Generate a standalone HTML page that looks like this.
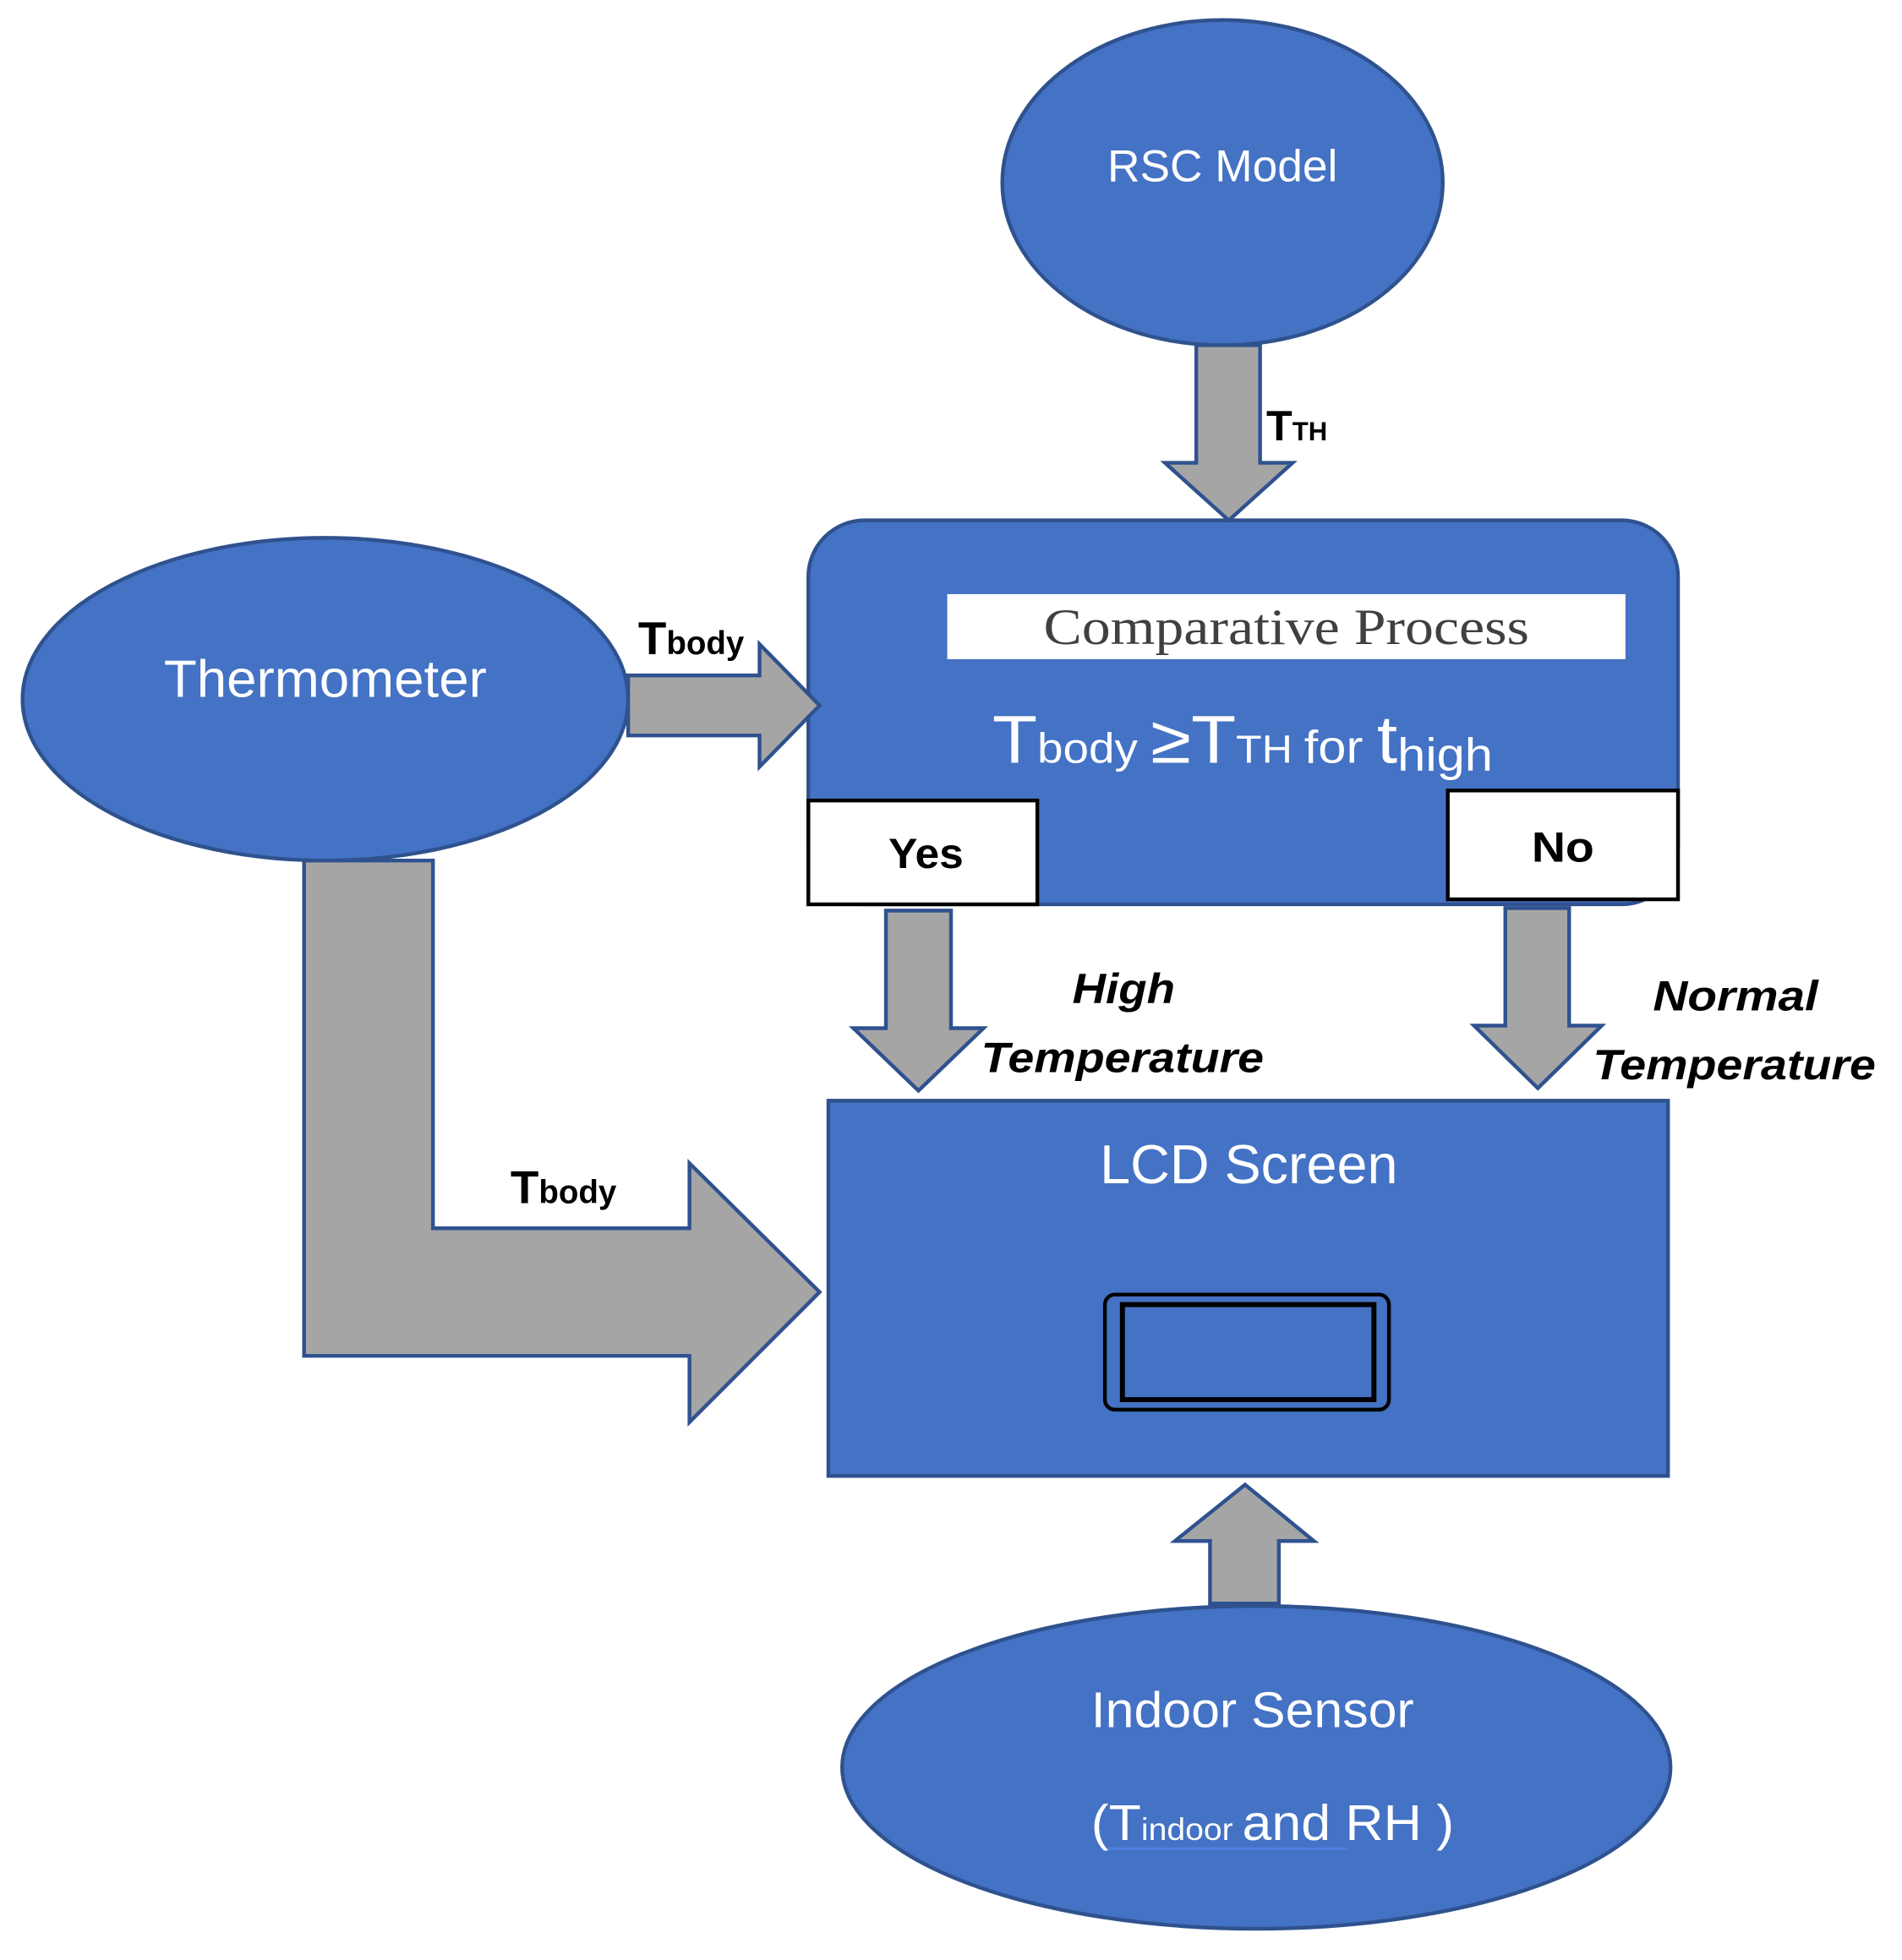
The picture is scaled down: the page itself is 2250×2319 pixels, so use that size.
<!DOCTYPE html>
<html><head><meta charset="utf-8"><style>html,body{margin:0;padding:0;background:#fff}svg{display:block}</style></head>
<body>
<svg width="2250" height="2319" viewBox="0 0 1520 1567" preserveAspectRatio="none" xmlns="http://www.w3.org/2000/svg" font-family="Liberation Sans, sans-serif">
<g stroke="#2F528F" stroke-width="3">
<ellipse cx="977" cy="146" rx="176" ry="130" fill="#4472C4"/>
<ellipse cx="260" cy="559" rx="242" ry="129" fill="#4472C4"/>
<rect x="646" y="416" width="695" height="307" rx="45" fill="#4472C4"/>
<rect x="662" y="880" width="671" height="300" fill="#4472C4"/>
<ellipse cx="1004" cy="1413" rx="331" ry="129" fill="#4472C4"/>
<g fill="#A5A5A5">
<polygon points="956,276 1007,276 1007,370 1033,370 982,416 931,370 956,370"/>
<polygon points="502,540 607,540 607,515 655,564 607,613 607,588 502,588"/>
<polygon points="708,728 760,728 760,822 786,822 734,872 682,822 708,822"/>
<polygon points="1203,726 1254,726 1254,820 1280,820 1229,870 1178,820 1203,820"/>
<polygon points="243,688 346,688 346,982 551,982 551,930 655,1033 551,1137 551,1084 243,1084"/>
<polygon points="967,1282 1022,1282 1022,1232 1050,1232 995,1187 939,1232 967,1232"/>
</g>
</g>
<rect x="757" y="475" width="542" height="52" fill="#fff"/>
<rect x="646" y="640" width="183" height="83" fill="#fff" stroke="#000" stroke-width="3"/>
<rect x="1157" y="632" width="184" height="87" fill="#fff" stroke="#000" stroke-width="3"/>
<rect x="883" y="1035" width="227" height="92" rx="8" fill="none" stroke="#000" stroke-width="3"/>
<rect x="897" y="1043" width="201" height="76" fill="none" stroke="#000" stroke-width="4"/>
<g fill="#fff" text-anchor="middle">
<text x="977" y="145" font-size="36" textLength="184" lengthAdjust="spacingAndGlyphs">RSC Model</text>
<text x="260" y="557" font-size="42" textLength="258" lengthAdjust="spacingAndGlyphs">Thermometer</text>
<text x="998" y="946" font-size="44" textLength="238" lengthAdjust="spacingAndGlyphs">LCD Screen</text>
<text x="1001" y="1381" font-size="40" textLength="258" lengthAdjust="spacingAndGlyphs">Indoor Sensor</text>
<text x="1017" y="1471" font-size="40" textLength="290" lengthAdjust="spacingAndGlyphs">(T<tspan font-size="25">indoor </tspan> and RH )</text>
<text x="993" y="610" font-size="54" textLength="400" lengthAdjust="spacingAndGlyphs">T<tspan font-size="34">body </tspan>≥T<tspan font-size="31">TH </tspan><tspan font-size="37">for </tspan>t<tspan font-size="37" dy="6">high</tspan></text>
</g>
<line x1="885" y1="1478" x2="1077" y2="1478" stroke="#4F7FE0" stroke-width="2"/>
<text x="1028" y="515" font-family="Liberation Serif, serif" font-size="41" fill="#404040" text-anchor="middle" textLength="388" lengthAdjust="spacingAndGlyphs">Comparative Process</text>
<g font-weight="bold" fill="#000" text-anchor="middle">
<text x="740" y="694" font-size="34" textLength="60" lengthAdjust="spacingAndGlyphs">Yes</text>
<text x="1249" y="689" font-size="34" textLength="50" lengthAdjust="spacingAndGlyphs">No</text>
<g font-style="italic" font-size="34">
<text x="898" y="802" textLength="82" lengthAdjust="spacingAndGlyphs">High</text>
<text x="897" y="857" textLength="226" lengthAdjust="spacingAndGlyphs">Temperature</text>
<text x="1387" y="808" textLength="132" lengthAdjust="spacingAndGlyphs">Normal</text>
<text x="1386" y="863" textLength="226" lengthAdjust="spacingAndGlyphs">Temperature</text>
</g>
</g>
<g font-weight="bold" fill="#000">
<text x="1012" y="352" font-size="34">T<tspan font-size="21">TH</tspan></text>
<text x="510" y="523" font-size="37">T<tspan font-size="26">body</tspan></text>
<text x="408" y="962" font-size="37">T<tspan font-size="26">body</tspan></text>
</g>
</svg>
</body></html>
